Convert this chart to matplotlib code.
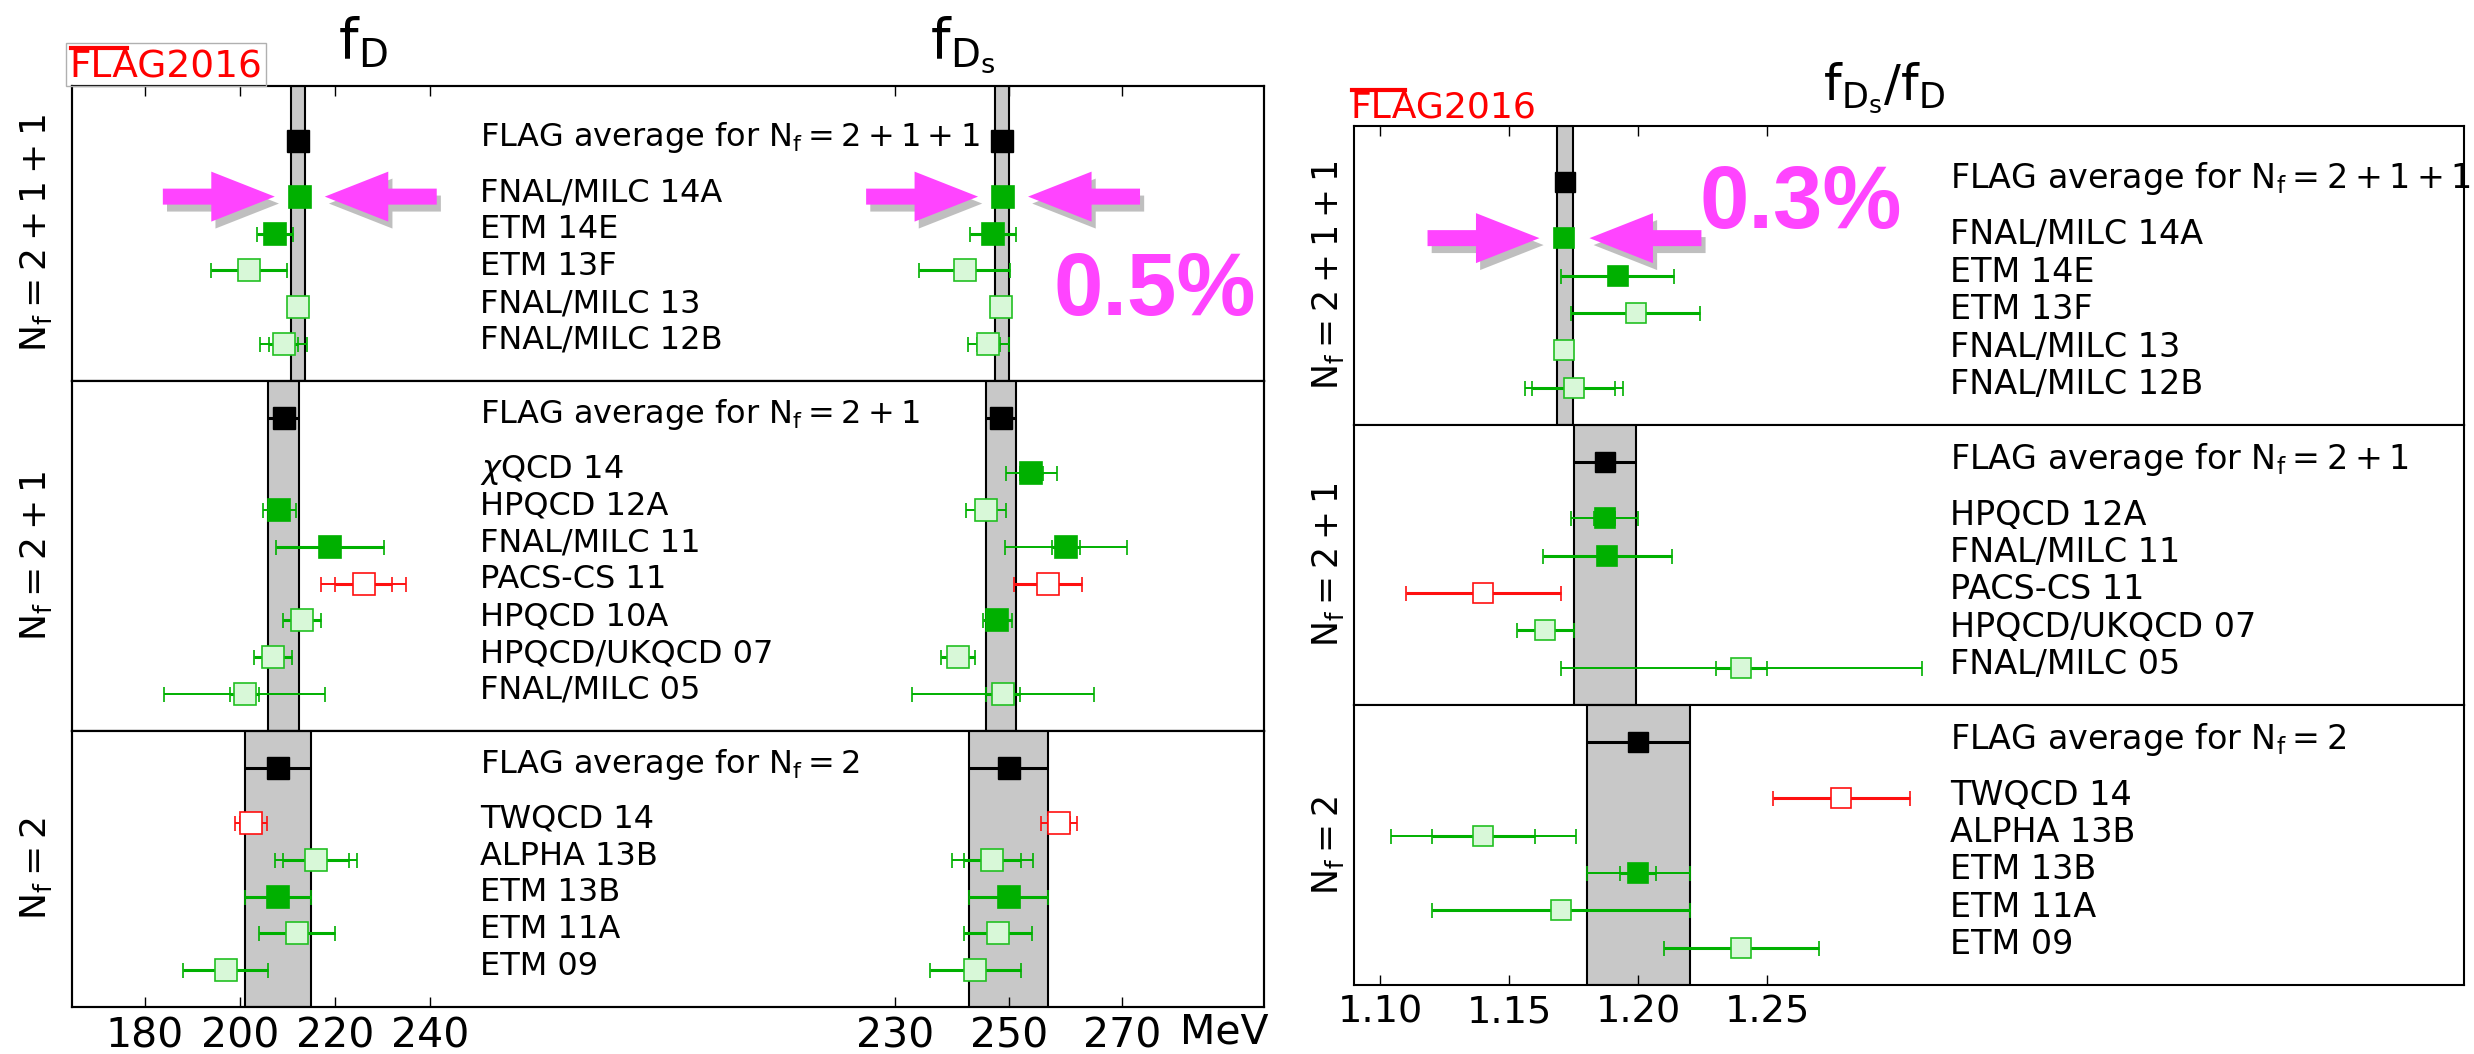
import numpy as np
import matplotlib
matplotlib.use('Agg')
import matplotlib.pyplot as plt
import matplotlib.patheffects as pe
import matplotlib.transforms as mtransforms
from matplotlib.patches import Rectangle
from matplotlib.lines import Line2D

nan = np.nan

# ---------------- data ----------------
# Nf = 2+1+1
labels_211 = ['FNAL/MILC 14A', 'ETM 14E', 'ETM 13F', 'FNAL/MILC 13', 'FNAL/MILC 12B']
style_211 = ['g', 'g', 'l', 'l', 'l']
fd_211 = [212.6, 207.4, 202.0, 212.3, 209.2]
fd_211_stat = [0.4, 3.8, 8.0, 0.3, 3.0]
fd_211_tot = [1.2, 3.8, 8.0, 1.0, 4.9]
fds_211 = [249.0, 247.2, 242.2, 248.7, 246.4]
fds_211_stat = [0.3, 4.1, 8.0, 0.2, 2.0]
fds_211_tot = [1.5, 4.1, 8.0, 1.0, 3.6]
r_211 = [1.1714, 1.192, 1.199, 1.1712, 1.175]
r_211_stat = [0.001, 0.022, 0.025, 0.001, 0.016]
r_211_tot = [0.0024, 0.022, 0.025, 0.001, 0.019]

# Nf = 2+1
labels_21 = ['$\\chi$QCD 14', 'HPQCD 12A', 'FNAL/MILC 11', 'PACS-CS 11',
             'HPQCD 10A', 'HPQCD/UKQCD 07', 'FNAL/MILC 05']
fd_21_style = ['g', 'g', 'g', 'r', 'l', 'l', 'l']
fd_21 = [nan, 208.3, 218.9, 226.0, 213.0, 207.0, 201.0]
fd_21_stat = [nan, 1.0, 11.3, 6.0, 4.0, 4.0, 3.0]
fd_21_tot = [nan, 3.4, 11.3, 9.0, 4.0, 4.0, 17.0]
fds_21_style = ['g', 'l', 'g', 'r', 'g', 'l', 'l']
fds_21 = [254.0, 246.0, 260.1, 257.0, 248.0, 241.0, 249.0]
fds_21_stat = [2.0, 0.7, 2.5, 6.0, 2.5, 3.0, 3.0]
fds_21_tot = [4.5, 3.6, 10.8, 6.0, 2.5, 3.0, 16.0]
labels_r21 = ['HPQCD 12A', 'FNAL/MILC 11', 'PACS-CS 11', 'HPQCD/UKQCD 07', 'FNAL/MILC 05']
r_21_style = ['g', 'g', 'r', 'l', 'l']
r_21 = [1.187, 1.188, 1.140, 1.164, 1.240]
r_21_stat = [0.004, 0.025, 0.030, 0.011, 0.010]
r_21_tot = [0.013, 0.025, 0.030, 0.011, 0.070]

# Nf = 2
labels_2 = ['TWQCD 14', 'ALPHA 13B', 'ETM 13B', 'ETM 11A', 'ETM 09']
style_2 = ['r', 'l', 'g', 'l', 'l']
fd_2 = [202.3, 216.0, 208.0, 212.0, 197.0]
fd_2_stat = [2.2, 7.0, 7.0, 8.0, 9.0]
fd_2_tot = [3.4, 8.6, 7.0, 8.0, 9.0]
fds_2 = [258.9, 247.1, 250.0, 248.1, 244.1]
fds_2_stat = [2.0, 5.0, 7.0, 6.0, 8.0]
fds_2_tot = [3.2, 7.1, 7.0, 6.0, 8.0]
r_2 = [1.2787, 1.140, 1.200, 1.170, 1.240]
r_2_stat = [0.0265, 0.020, 0.007, 0.050, 0.030]
r_2_tot = [0.0265, 0.036, 0.020, 0.050, 0.030]

# FLAG averages for Nf = 2+1+1, 2+1, 2
avg_names = ['2+1+1', '2+1', '2']
fd_avg = [212.15, 209.2, 208.0]
fd_avg_err = [1.45, 3.3, 7.0]
fds_avg = [248.83, 248.6, 250.0]
fds_avg_err = [1.27, 2.65, 7.0]
r_avg = [1.1716, 1.187, 1.200]
r_avg_err = [0.0030, 0.012, 0.020]

fd_ticks = [180, 200, 220, 240]
fds_ticks = [230, 250, 270]
r_ticks = [1.10, 1.15, 1.20, 1.25]

# ---------------- styling ----------------
MAG = '#ff44ff'
STY = {
    'g': ('#00b000', '#00b000', '#00b000'),
    'l': ('#00b000', '#d8f8d8', '#22c022'),
    'r': ('#ff1010', 'white', '#ff1010'),
}
W, H = 2474, 1054


def rect(x0, x1, y0, y1):
    return [x0 / W, 1 - y1 / H, (x1 - x0) / W, (y1 - y0) / H]


def draw_point(ax, x, y, stat, tot, st, ms, cs):
    if np.isnan(x):
        return
    col, face, edge = STY[st]
    if tot > stat:
        ax.errorbar(x, y, xerr=tot, fmt='none', ecolor=col, elinewidth=1.4,
                    capsize=cs, capthick=1.2, zorder=3)
    ax.errorbar(x, y, xerr=stat, fmt='none', ecolor=col, elinewidth=2.2,
                capsize=cs, capthick=1.2, zorder=3)
    ax.plot(x, y, 's', ms=ms, mfc=face, mec=edge, mew=1.2, zorder=4)


def draw_avg(ax, x, err, y, ms):
    ax.axvspan(x - err, x + err, fc='#c8c8c8', ec='black', lw=1.5, zorder=1)
    ax.errorbar(x, y, xerr=err, fmt='s', color='black', ms=ms, elinewidth=2.2,
                capsize=0, zorder=4)


def arrows(ax, x, y):
    for side in (-1, 1):
        ax.annotate('', xy=(x, y), xytext=(side * 98.6, 0), textcoords='offset points',
                    arrowprops=dict(arrowstyle='simple,head_length=1.27,head_width=1.0,tail_width=0.32',
                                    mutation_scale=36, fc=MAG, ec='none', shrinkA=0, shrinkB=18,
                                    path_effects=[pe.SimplePatchShadow(offset=(3, -5), shadow_rgbFace='0.45', alpha=0.45),
                                                  pe.Normal()]))


def frame(ax, where):
    for s in ax.spines.values():
        s.set_linewidth(1.5)
    ax.set_yticks([])
    ax.tick_params(axis='x', direction='in', length=7, width=1,
                   top=(where == 'top'), bottom=(where == 'bottom'),
                   labeltop=False, labelbottom=(where == 'bottom'), pad=7)


fig = plt.figure(figsize=(W / 100, H / 100), dpi=100)

# ---------------- left panel: f_D and f_Ds ----------------
left_x = (72.3, 1263.5)
left_y = [86, 381, 731, 1007]
fd_sets = [(fd_211, fd_211_stat, fd_211_tot, style_211),
           (fd_21, fd_21_stat, fd_21_tot, fd_21_style),
           (fd_2, fd_2_stat, fd_2_tot, style_2)]
fds_sets = [(fds_211, fds_211_stat, fds_211_tot, style_211),
            (fds_21, fds_21_stat, fds_21_tot, fds_21_style),
            (fds_2, fds_2_stat, fds_2_tot, style_2)]
left_labels = [labels_211, labels_21, labels_2]
where = ['top', 'mid', 'bottom']
nf_labels = ['$\\mathrm{N_f=2+1+1}$', '$\\mathrm{N_f=2+1}$', '$\\mathrm{N_f=2}$']

for k in range(3):
    ax = fig.add_axes(rect(left_x[0], left_x[1], left_y[k], left_y[k + 1]))
    axs = ax.twiny()
    ax.set_xlim(164.8, 415.1)
    axs.set_xlim(84.6, 295.0)
    avg_row = 1.5 if k == 0 else 1.0
    rows = avg_row + 1.5 + np.arange(len(left_labels[k]))
    ax.set_ylim(rows[-1] + 1.0, 0)
    frame(ax, where[k])
    frame(axs, where[k])
    if where[k] == 'bottom':
        axs.xaxis.tick_bottom()
        axs.tick_params(axis='x', labelbottom=True, labeltop=False)
    ax.set_xticks(fd_ticks)
    axs.set_xticks(fds_ticks)
    ax.tick_params(labelsize=29.5)
    axs.tick_params(labelsize=29.5)

    draw_avg(ax, fd_avg[k], fd_avg_err[k], avg_row, 15.5)
    draw_avg(axs, fds_avg[k], fds_avg_err[k], avg_row, 15.5)
    v, s, t, st = fd_sets[k]
    for i in range(len(rows)):
        draw_point(ax, v[i], rows[i], s[i], t[i], st[i], 15.5, 5.4)
    v, s, t, st = fds_sets[k]
    for i in range(len(rows)):
        draw_point(axs, v[i], rows[i], s[i], t[i], st[i], 15.5, 5.4)

    tr = mtransforms.blended_transform_factory(ax.transAxes, ax.transData)
    ax.text(0.3423, avg_row + 0.13, 'FLAG average for $\\mathrm{N_f=%s}$' % avg_names[k],
            transform=tr, fontsize=23, va='baseline')
    for i, lab in enumerate(left_labels[k]):
        ax.text(0.3423, rows[i] + 0.13, lab, transform=tr, fontsize=23, va='baseline')
    ax.text(-0.0305, 0.5, nf_labels[k], transform=ax.transAxes, rotation=90,
            ha='center', va='center', fontsize=26)
    if k == 0:
        arrows(ax, fd_211[0], rows[0])
        arrows(axs, fds_211[0], rows[0])

fig.text(1268 / W, 1 - 1052 / H, 'MeV', ha='right', va='bottom', fontsize=29.5)
fig.text(363 / W, 1 - 58 / H, '$\\mathrm{f_D}$', ha='center', va='baseline', fontsize=40)
fig.text(963 / W, 1 - 58 / H, '$\\mathrm{f_{D_s}}$', ha='center', va='baseline', fontsize=40)
fig.text(1155 / W, 1 - 315 / H, '0.5%', ha='center', va='baseline', fontsize=64,
         weight='bold', family='Liberation Sans', color=MAG)

# ---------------- right panel: f_Ds / f_D ----------------
right_x = (1353.9, 2464.3)
right_y = [126, 425, 705, 985]
r_sets = [(r_211, r_211_stat, r_211_tot, style_211),
          (r_21, r_21_stat, r_21_tot, r_21_style),
          (r_2, r_2_stat, r_2_tot, style_2)]
right_labels = [labels_211, labels_r21, labels_2]

for k in range(3):
    ax = fig.add_axes(rect(right_x[0], right_x[1], right_y[k], right_y[k + 1]))
    ax.set_xlim(1.0898, 1.5201)
    avg_row = 1.5 if k == 0 else 1.0
    rows = avg_row + 1.5 + np.arange(len(right_labels[k]))
    ax.set_ylim(rows[-1] + 1.0, 0)
    frame(ax, where[k])
    ax.set_xticks(r_ticks)
    ax.set_xticklabels(['%.2f' % t for t in r_ticks])
    ax.tick_params(labelsize=27.5)

    draw_avg(ax, r_avg[k], r_avg_err[k], avg_row, 14)
    v, s, t, st = r_sets[k]
    for i in range(len(rows)):
        draw_point(ax, v[i], rows[i], s[i], t[i], st[i], 14, 5.4)

    tr = mtransforms.blended_transform_factory(ax.transAxes, ax.transData)
    ax.text(0.5368, avg_row + 0.17, 'FLAG average for $\\mathrm{N_f=%s}$' % avg_names[k],
            transform=tr, fontsize=24, va='baseline')
    for i, lab in enumerate(right_labels[k]):
        ax.text(0.5368, rows[i] + 0.17, lab, transform=tr, fontsize=24, va='baseline')
    ax.text(-0.0233, 0.5, nf_labels[k], transform=ax.transAxes, rotation=90,
            ha='center', va='center', fontsize=25)
    if k == 0:
        arrows(ax, r_211[0], rows[0])

fig.text(1884 / W, 1 - 100 / H, '$\\mathrm{f_{D_s}/f_D}$', ha='center', va='baseline', fontsize=36)
fig.text(1801 / W, 1 - 228 / H, '0.3%', ha='center', va='baseline', fontsize=64,
         weight='bold', family='Liberation Sans', color=MAG)

# ---------------- FLAG2016 logos ----------------
fig.text(69 / W, 1 - 77 / H, 'FLAG2016', color='red', fontsize=27, va='baseline')
fig.add_artist(Line2D([71 / W, 127 / W], [1 - 48 / H, 1 - 48 / H], color='red', lw=3))
fig.add_artist(Rectangle((66 / W, 1 - 86 / H), 200 / W, 43 / H, fill=False,
                         ec='#b0b0b0', lw=1))
fig.text(1351 / W, 1 - 118 / H, 'FLAG2016', color='red', fontsize=26, va='baseline')
fig.add_artist(Line2D([1352 / W, 1405 / W], [1 - 90 / H, 1 - 90 / H], color='red', lw=3))

fig.savefig('out.png', dpi=100)
